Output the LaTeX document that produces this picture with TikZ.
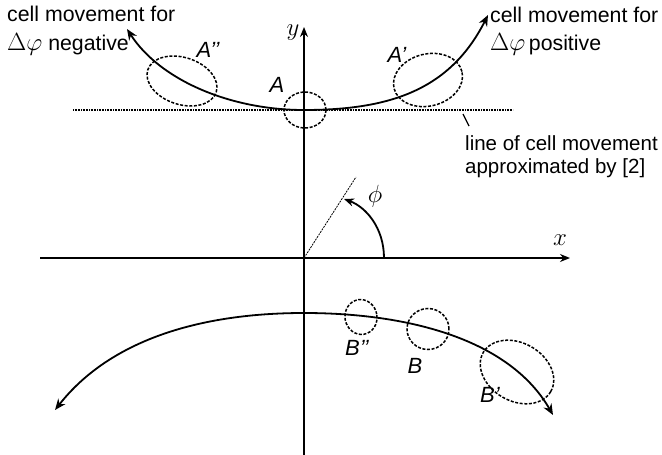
\documentclass[tikz,border=0pt]{standalone}
\usepackage{fontspec}
\setmainfont{Liberation Sans}
\usetikzlibrary{arrows.meta,shapes.geometric}
\begin{document}
\begin{tikzpicture}[x=1pt,y=-1pt,
  txt/.style={inner sep=0pt,anchor=base west,font=\fontsize{21.3}{24}\selectfont},
  lbl/.style={inner sep=0pt,font=\fontsize{22}{24}\selectfont\itshape},
  axis/.style={line width=1.6pt,-{Stealth[length=10pt,width=8pt]}},
  move/.style={line width=1.8pt,{Stealth[length=11pt,width=9pt]}-{Stealth[length=11pt,width=9pt]}},
  cell/.style={draw,ellipse,dash pattern=on 3pt off 1.6pt,line width=1.5pt,inner sep=0pt},
  guide/.style={line width=1.4pt,dash pattern=on 0.9pt off 0.7pt}]
\useasboundingbox (0,0) rectangle (662,455);
% axes
\coordinate (o) at (304,258);
\coordinate (xl) at (40,258);
\coordinate (xr) at (570,258);
\coordinate (yb) at (304,455);
\coordinate (yt) at (304,27);
\draw[axis] (xl) -- (xr);
\draw[axis,line width=1.3pt] (yb) -- (yt);
\node[inner sep=0pt,font=\fontsize{25}{26}\selectfont] (ylab) at (293,33) {$y$};
\node[inner sep=0pt,font=\fontsize{25}{26}\selectfont] (xlab) at (560,240) {$x$};
% angle
\coordinate (ang) at (356,177);
\draw[line width=0.8pt,dash pattern=on 2pt off 1pt] (o) -- (ang);
\coordinate (arcs) at (384,258);
\coordinate (arce) at (344,199);
\draw[line width=1.8pt,-{Stealth[length=10pt,width=8pt]}] (arcs) .. controls (384,228) and (366,207) .. (arce);
\node[inner sep=0pt,font=\fontsize{25}{26}\selectfont] (philab) at (375,196) {$\phi$};
% top
\coordinate (gl) at (73,110);
\coordinate (gr) at (513,110);
\draw[guide] (gl) -- (gr);
\coordinate (tl) at (127,29);
\coordinate (tA) at (304,110);
\coordinate (tr) at (488,15);
\draw[move] (tl) .. controls (160,80) and (230,110) .. (tA) .. controls (390,110) and (450,90) .. (tr);
\node[cell,minimum width=72pt,minimum height=47pt,rotate=-18] (App) at (182,81) {};
\node[cell,minimum width=42pt,minimum height=36pt] (A) at (305,110) {};
\node[cell,minimum width=70pt,minimum height=52pt,rotate=14] (Ap) at (428,80) {};
\node[lbl] (Applab) at (208,50) {A’’};
\node[lbl] (Alab) at (277,85) {A};
\node[lbl] (Aplab) at (397,55) {A’};
\node[txt] (tl1) at (7,21) {cell movement for};
\node[txt] (tl2) at (7,50) {{\fontsize{24}{24}\selectfont$\Delta\varphi$} negative};
\node[txt] (tr1) at (490,23) {cell movement for};
\node[txt] (tr2) at (490,50) {{\fontsize{24}{24}\selectfont$\Delta\varphi$}\,positive};
\coordinate (ld1) at (463,114);
\coordinate (ld2) at (469,126);
\draw[line width=1.3pt] (ld1) -- (ld2);
\node[txt,font=\fontsize{20.5}{24}\selectfont] (ln1) at (465,150) {line of cell movement};
\node[txt,font=\fontsize{20.5}{24}\selectfont] (ln2) at (465,173) {approximated by [2]};
% bottom
\coordinate (bl) at (55,410);
\coordinate (bB) at (304,313);
\coordinate (br) at (553,415);
\draw[move] (bl) .. controls (110,340) and (200,313) .. (bB) .. controls (410,313) and (510,340) .. (br);
\node[cell,minimum width=32pt,minimum height=35pt,rotate=10] (Bpp) at (361,317) {};
\node[cell,minimum width=42pt,minimum height=41pt] (B) at (428,329) {};
\node[cell,minimum width=78pt,minimum height=58pt,rotate=-30] (Bp) at (517,372) {};
\node[lbl] (Bpplab) at (357,348) {B’’};
\node[lbl] (Blab) at (415,366) {B};
\node[lbl] (Bplab) at (490,395) {B’};
\end{tikzpicture}
\end{document}
